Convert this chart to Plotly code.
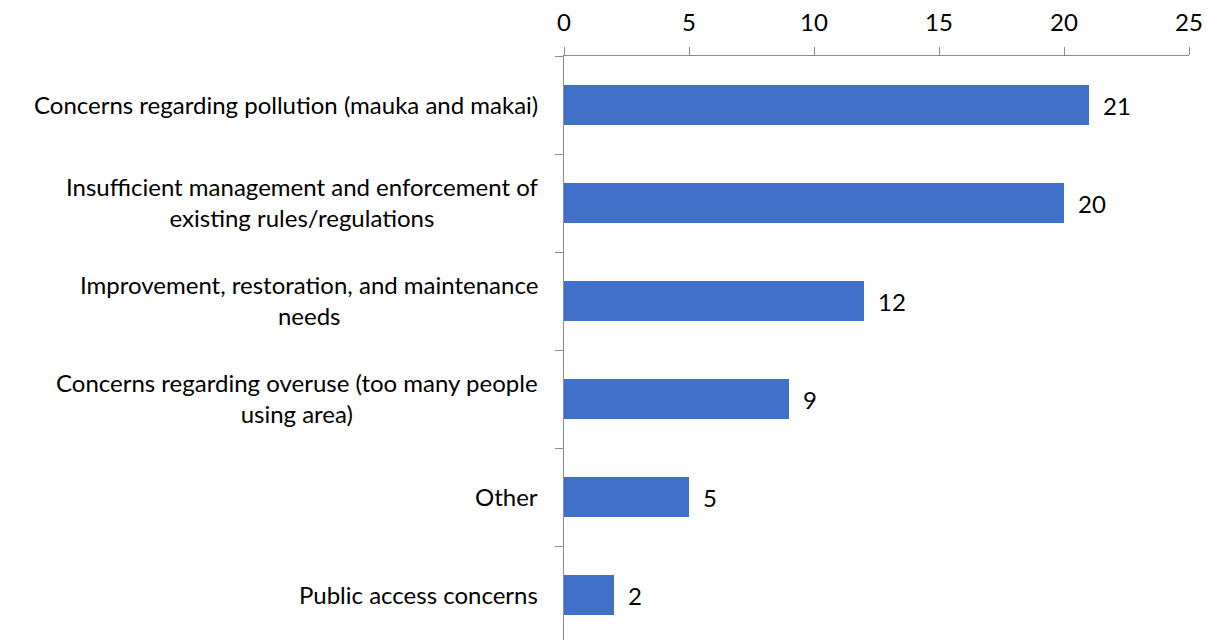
import plotly.graph_objects as go

categories = [
    "Concerns regarding pollution (mauka and makai)",
    "Insufficient management and enforcement of<br>existing rules/regulations",
    "Improvement, restoration, and maintenance<br>needs",
    "Concerns regarding overuse (too many people<br>using area)",
    "Other",
    "Public access concerns",
]
values = [21, 20, 12, 9, 5, 2]
x_ticks = [0, 5, 10, 15, 20, 25]

FONT = "Lato"
FS = 24
fig = go.Figure()
fig.add_trace(go.Bar(
    y=list(range(len(categories))), x=values, orientation="h",
    width=0.41,
    marker=dict(color="#4170C8", line=dict(width=0)),
    cliponaxis=False,
))
for i, c in enumerate(categories):
    fig.add_annotation(
        x=0, xref="paper", y=i, yref="y", text=c, showarrow=False,
        xanchor="right", align="center", xshift=-24, yshift=1,
        font=dict(family=FONT, size=FS, color="black"),
    )
for i, v in enumerate(values):
    fig.add_annotation(
        x=v, xref="x", y=i, yref="y", text=str(v), showarrow=False,
        xanchor="left", xshift=12,
        font=dict(family=FONT, size=FS, color="black"),
    )
fig.update_layout(
    width=1209, height=640,
    margin=dict(l=564, r=20, t=56, b=0, pad=0, autoexpand=False),
    plot_bgcolor="white", paper_bgcolor="white",
    showlegend=False,
    font=dict(family=FONT, size=FS, color="black"),
)
fig.update_xaxes(
    side="top", range=[0, 25], tickvals=x_ticks, ticktext=[str(t) for t in x_ticks],
    showgrid=False, zeroline=False, showline=True, linecolor="#8c8c8c", linewidth=1,
    ticks="outside", ticklen=8, tickcolor="#8c8c8c", ticklabelstandoff=6,
    tickfont=dict(family=FONT, size=FS, color="black"),
)
fig.update_yaxes(
    range=[5.459, -0.5], tickvals=[i + 0.5 for i in range(-1, len(categories) - 1)],
    ticktext=["" for _ in categories],
    showgrid=False, zeroline=False, showline=True, linecolor="#8c8c8c", linewidth=1,
    ticks="outside", ticklen=8, tickcolor="#8c8c8c",
)
fig.write_html("out.html", config={"displayModeBar": False},
               post_script="document.body.style.margin='0';")
